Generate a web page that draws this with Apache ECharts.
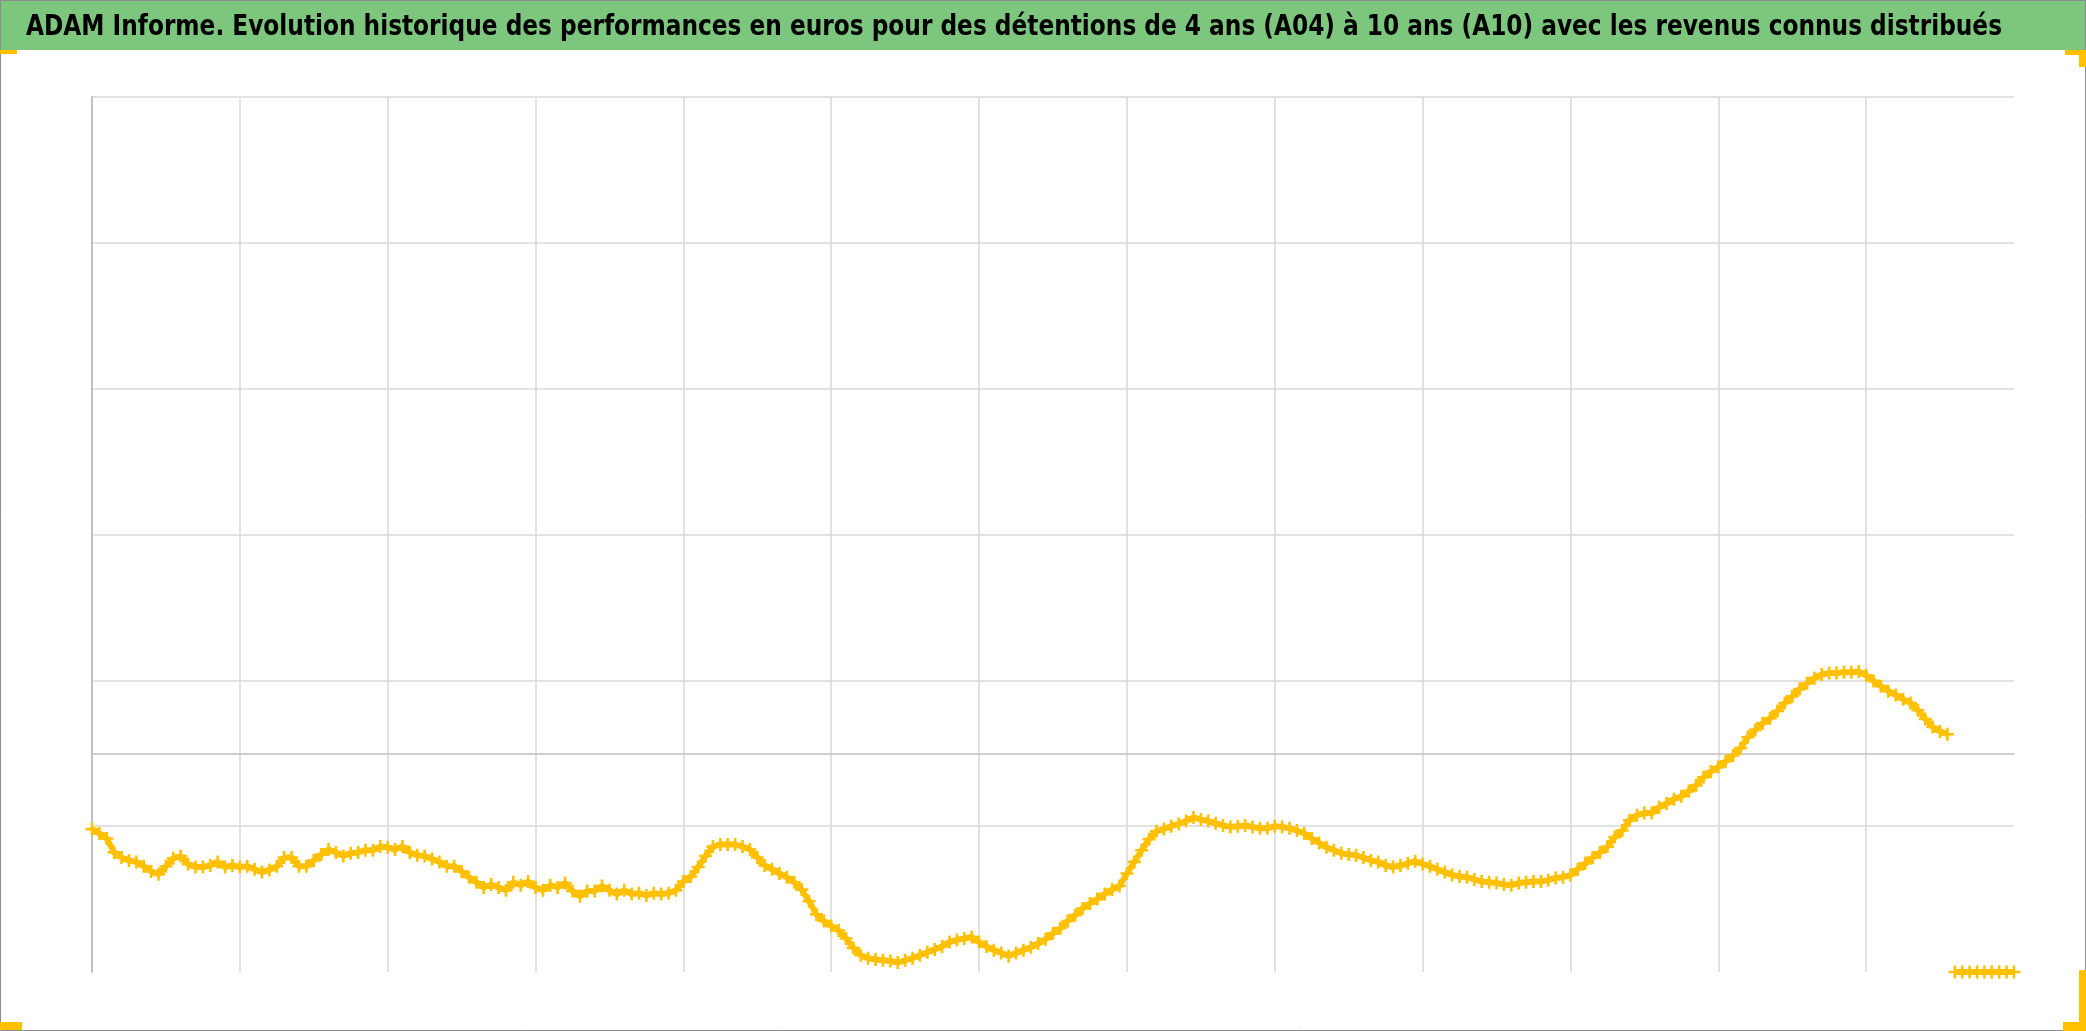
<!DOCTYPE html>
<html>
<head>
<meta charset="utf-8">
<script src="https://cdn.jsdelivr.net/npm/echarts@6/dist/echarts.min.js"></script>
<style>
html,body{margin:0;padding:0;background:#ffffff;}
#chart{width:2086px;height:1031px;}
</style>
</head>
<body>
<div id="chart"></div>
<script>
// ---------- DATA ----------
const titleText = "ADAM Informe. Evolution historique des performances en euros pour des détentions de 4 ans (A04) à 10 ans (A10) avec les revenus connus distribués";

// Performance series, one value per period
const perfValues = [
  -10.4, -11.0, -11.7, -13.6, -14.3, -14.7, -14.9, -15.5, -16.2, -16.6,
  -15.5, -14.4, -14.1, -15.2, -15.6, -15.6, -15.4, -14.9, -15.6, -15.4,
  -15.6, -15.5, -15.9, -16.3, -16.0, -15.5, -14.3, -14.3, -15.5, -15.5,
  -14.7, -13.9, -13.2, -13.6, -14.1, -13.7, -13.6, -13.3, -13.3, -12.8,
  -12.9, -13.2, -12.8, -13.6, -14.0, -14.1, -14.5, -14.9, -15.5, -15.5,
  -16.2, -17.0, -17.7, -18.4, -18.0, -18.4, -18.8, -17.7, -18.1, -17.6,
  -18.4, -18.8, -18.1, -18.4, -17.8, -18.9, -19.6, -18.9, -18.9, -18.2,
  -18.8, -19.3, -18.8, -19.3, -19.2, -19.5, -19.2, -19.3, -19.2, -18.8,
  -17.6, -16.9, -15.6, -14.1, -12.8, -12.5, -12.5, -12.5, -12.8, -13.2,
  -14.3, -15.4, -15.9, -16.5, -17.0, -17.7, -18.7, -20.3, -22.1, -23.0,
  -23.7, -24.3, -25.4, -26.7, -27.7, -28.1, -28.3, -28.4, -28.5, -28.7,
  -28.4, -28.1, -27.7, -27.3, -26.9, -26.5, -25.9, -25.6, -25.4, -25.2,
  -25.9, -26.5, -27.0, -27.4, -27.8, -27.4, -27.0, -26.6, -26.1, -25.5,
  -24.7, -24.0, -23.0, -22.2, -21.3, -20.6, -20.0, -19.3, -18.7, -18.2,
  -16.5, -14.9, -13.3, -11.8, -10.7, -10.4, -10.0, -9.7, -9.3, -8.8,
  -9.1, -9.3, -9.6, -9.9, -10.1, -10.0, -9.9, -10.1, -10.3, -10.3,
  -10.0, -10.1, -10.3, -10.6, -11.0, -11.7, -12.3, -12.9, -13.3, -13.7,
  -13.9, -14.0, -14.3, -14.7, -14.9, -15.4, -15.6, -15.4, -15.1, -14.8,
  -15.2, -15.5, -15.9, -16.3, -16.7, -16.9, -17.0, -17.3, -17.6, -17.7,
  -17.8, -18.0, -18.1, -17.8, -17.7, -17.6, -17.6, -17.4, -17.1, -17.0,
  -16.7, -15.9, -15.1, -14.3, -13.6, -12.8, -11.5, -10.6, -9.2, -8.5,
  -8.2, -8.2, -7.4, -6.9, -6.3, -5.9, -5.2, -4.4, -3.3, -2.5,
  -1.9, -1.1, -0.3, 0.7, 2.2, 3.2, 4.1, 4.8, 5.8, 6.9,
  7.8, 8.8, 9.6, 10.3, 10.8, 11.0, 11.0, 11.1, 11.1, 11.2,
  10.7, 9.9, 9.2, 8.5, 8.0, 7.4, 6.9, 5.9, 4.7, 3.6,
  3.0, 2.6
];

// Trailing periods sitting on the bottom of the axis
const tailValues = [-30, -30, -30, -30, -30, -30, -30, -30, -30];

// Value axis range (labels hidden in the original)
const valueAxisMin = -30;
const valueAxisMax = 90;
// Helper axis for horizontal gridlines (min is a multiple of the interval)
const gridAxisMin = 0;
const gridAxisMax = 120;
const gridAxisInterval = 20;
// Vertical gridline every N periods
const periodsPerGridline = 20;

const periodCount = perfValues.length + tailValues.length;
const categories = Array.from({length: periodCount}, (_, i) => 'P' + (i + 1));

const perfData = perfValues.concat(tailValues.map(() => null));
const tailData = perfValues.map(() => null).concat(tailValues);

// ---------- STYLE ----------
const gold = '#FFC000';
const plusPath = 'path://M4,0H6V4H10V6H6V10H4V6H0V4H4Z';

// title: tall bold type compressed horizontally to the original width (~1976px)
const titleFamily = '"Liberation Sans Narrow", "DejaVu Sans Condensed", "Liberation Sans", sans-serif';
const titleSize = 29;
let titleScaleX = 1;
(function () {
  const ctx = document.createElement('canvas').getContext('2d');
  ctx.font = 'bold ' + titleSize + 'px ' + titleFamily;
  const w = ctx.measureText(titleText).width;
  if (w > 0) titleScaleX = Math.min(1, 1976 / w);
})();

const chart = echarts.init(document.getElementById('chart'), null, {renderer: 'canvas'});

const seriesStyle = {
  type: 'line',
  symbol: plusPath,
  symbolSize: 13,
  showSymbol: true,
  showAllSymbol: true,
  connectNulls: false,
  itemStyle: {color: gold},
  lineStyle: {color: gold, width: 6},
  emphasis: {disabled: true},
  animation: false
};

const option = {
  backgroundColor: '#ffffff',
  animation: false,
  grid: {left: 92, right: 72, top: 97, bottom: 59, containLabel: false},
  xAxis: {
    type: 'category',
    data: categories,
    boundaryGap: false,
    axisLine: {show: true, onZero: true, onZeroAxisIndex: 0, lineStyle: {color: '#bfbfbf', width: 1.5}},
    axisTick: {show: false},
    axisLabel: {show: false},
    splitLine: {
      show: true,
      interval: periodsPerGridline - 1,
      showMinLine: true,
      showMaxLine: false,
      lineStyle: {color: '#d9d9d9', width: 1.5}
    }
  },
  yAxis: [
    {
      type: 'value',
      min: valueAxisMin,
      max: valueAxisMax,
      axisLine: {show: true, lineStyle: {color: '#bfbfbf', width: 2}},
      axisTick: {show: false},
      axisLabel: {show: false},
      splitLine: {show: false}
    },
    {
      type: 'value',
      position: 'left',
      min: gridAxisMin,
      max: gridAxisMax,
      interval: gridAxisInterval,
      axisLine: {show: false},
      axisTick: {show: false},
      axisLabel: {show: false},
      splitLine: {show: true, showMinLine: false, lineStyle: {color: '#d9d9d9', width: 1.5}}
    }
  ],
  series: [
    Object.assign({}, seriesStyle, {name: 'Performance', data: perfData, yAxisIndex: 0, z: 3}),
    Object.assign({}, seriesStyle, {name: 'Fin', data: tailData, yAxisIndex: 0, z: 3})
  ],
  graphic: [
    {type: 'rect', z: 0, silent: true, shape: {x: 0, y: 0, width: 2086, height: 50}, style: {fill: '#7DC67D'}},
    {type: 'text', z: 10, silent: true, x: 26, y: 27, scaleX: titleScaleX, scaleY: 1,
      style: {text: titleText, fill: '#000000', font: 'bold ' + titleSize + 'px ' + titleFamily, textVerticalAlign: 'middle', textAlign: 'left'}},
    {type: 'rect', z: 20, silent: true, shape: {x: 0.5, y: 0.5, width: 2085, height: 1030}, style: {fill: 'none', stroke: '#8c8c8c', lineWidth: 1}},
    {type: 'rect', z: 21, silent: true, shape: {x: 0, y: 50, width: 17, height: 4}, style: {fill: gold}},
    {type: 'rect', z: 21, silent: true, shape: {x: 2065, y: 50, width: 21, height: 5}, style: {fill: gold}},
    {type: 'rect', z: 21, silent: true, shape: {x: 2079, y: 50, width: 7, height: 17}, style: {fill: gold}},
    {type: 'rect', z: 21, silent: true, shape: {x: 0, y: 1022, width: 22, height: 8}, style: {fill: gold}},
    {type: 'rect', z: 21, silent: true, shape: {x: 2079, y: 970, width: 7, height: 61}, style: {fill: gold}},
    {type: 'rect', z: 21, silent: true, shape: {x: 2063, y: 1022, width: 23, height: 9}, style: {fill: gold}}
  ]
};

chart.setOption(option);
</script>
</body>
</html>
